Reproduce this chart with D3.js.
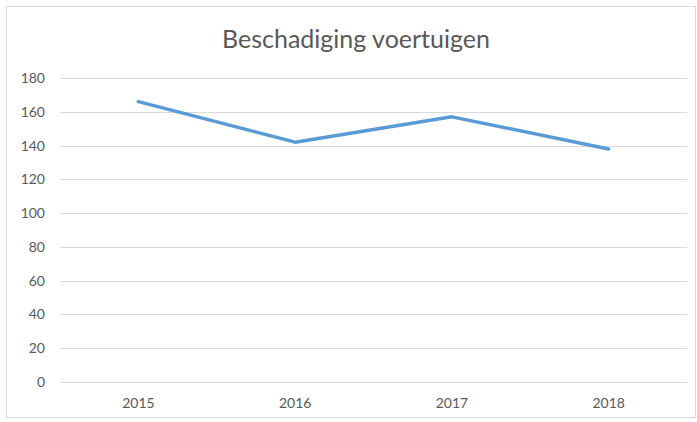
<!DOCTYPE html>
<html>
<head>
<meta charset="utf-8">
<script src="https://cdn.jsdelivr.net/npm/d3@7"></script>
<style>
  body { margin: 0; background: #fff; }
  svg { display: block; font-family: Lato, "Open Sans", sans-serif; }
</style>
</head>
<body>
<div id="chart"></div>
<script>
// Gegevens uit de grafiek
const jaren = ['2015', '2016', '2017', '2018'];
const schades = [166, 142, 157, 138];
const yTicks = [0, 20, 40, 60, 80, 100, 120, 140, 160, 180];
const titel = 'Beschadiging voertuigen';

const width = 697;
const height = 422;
const margin = { top: 78, right: 10, bottom: 40, left: 60 };
const plotRight = 687;
const plotBottom = 382;

const svg = d3.select('#chart')
  .append('svg')
  .attr('width', width)
  .attr('height', height);

// Kader rond de grafiek
svg.append('rect')
  .attr('x', 6.5)
  .attr('y', 6.5)
  .attr('width', 689)
  .attr('height', 411)
  .attr('fill', '#fff')
  .attr('stroke', '#d9d9d9');

const x = d3.scaleBand()
  .domain(jaren)
  .range([margin.left, plotRight]);

const y = d3.scaleLinear()
  .domain([0, 180])
  .range([plotBottom, margin.top]);

// Rasterlijnen
svg.append('g')
  .selectAll('line')
  .data(yTicks)
  .enter().append('line')
  .attr('x1', margin.left)
  .attr('x2', plotRight)
  .attr('y1', d => Math.round(y(d)) + 0.5)
  .attr('y2', d => Math.round(y(d)) + 0.5)
  .attr('stroke', '#d9d9d9')
  .attr('stroke-width', 1);

// Y-as labels
const yAxis = svg.append('g')
  .attr('transform', `translate(${margin.left - 15},0)`)
  .call(d3.axisLeft(y).tickValues(yTicks).tickSize(0).tickPadding(0));
yAxis.select('.domain').remove();
yAxis.selectAll('text')
  .attr('fill', '#595959')
  .style('font-size', '14px')
  .style('font-family', 'Lato, "Open Sans", sans-serif');

// X-as labels
const xAxis = svg.append('g')
  .attr('transform', `translate(0,${plotBottom})`)
  .call(d3.axisBottom(x).tickSize(0).tickPadding(16));
xAxis.select('.domain').remove();
xAxis.selectAll('text')
  .attr('fill', '#595959')
  .style('font-size', '14px')
  .style('font-family', 'Lato, "Open Sans", sans-serif');

// Lijn
const line = d3.line()
  .x((d, i) => x(jaren[i]) + x.bandwidth() / 2)
  .y(d => y(d));

svg.append('path')
  .datum(schades)
  .attr('fill', 'none')
  .attr('stroke', '#5b9bd5')
  .attr('stroke-width', 3.5)
  .attr('stroke-linejoin', 'round')
  .attr('stroke-linecap', 'round')
  .attr('d', line);

// Titel
svg.append('text')
  .attr('x', 356)
  .attr('y', 48)
  .attr('text-anchor', 'middle')
  .attr('fill', '#595959')
  .style('font-size', '25px')
  .text(titel);
</script>
</body>
</html>
